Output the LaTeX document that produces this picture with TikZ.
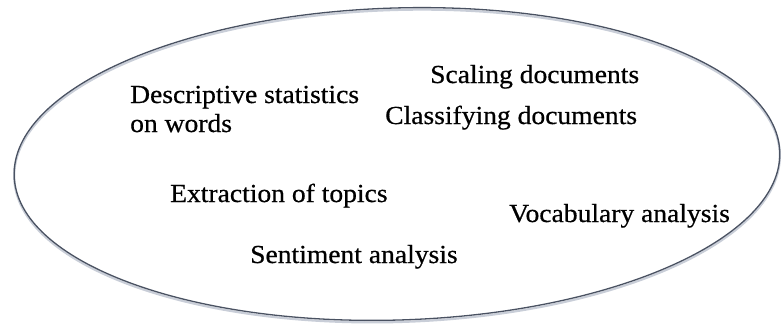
\documentclass[tikz,border=0pt]{standalone}
\usepackage{fontspec}
\setmainfont[FakeStretch=1.06,FakeBold=0.6]{Liberation Serif}
\usepackage{xcolor}
\usepackage{tikz}
\usetikzlibrary{positioning}
\definecolor{rimblue}{HTML}{4A5262}
\definecolor{rimshade}{HTML}{C9CED8}

\begin{document}
\begin{tikzpicture}[x=1pt,y=-1pt,
    task/.style={anchor=base west,inner sep=0pt,align=left,
      font=\fontsize{26}{29}\selectfont,text=black}]
  \useasboundingbox (0,0) rectangle (783,325);
  \coordinate (mid) at (397,164);
  % outline with a soft shade under it
  \draw[rimshade,line width=2.2pt,rotate around={1.8:(mid)}]
    ([yshift=-2pt]mid) ellipse [x radius=383,y radius=156];
  \draw[rimblue,line width=1.3pt,rotate around={1.8:(mid)}]
    (mid) ellipse [x radius=383,y radius=156];
  % the tasks
  \node[task] (desc)  at (130,132) {Descriptive statistics\\on words};
  \node[task] (scale) at (430,83)  {Scaling documents};
  \node[task] (class) at (385,124) {Classifying documents};
  \node[task] (topic) at (170,202) {Extraction of topics};
  \node[task] (vocab) at (509,222) {Vocabulary analysis};
  \node[task] (senti) at (250,263) {Sentiment analysis};
\end{tikzpicture}
\end{document}
